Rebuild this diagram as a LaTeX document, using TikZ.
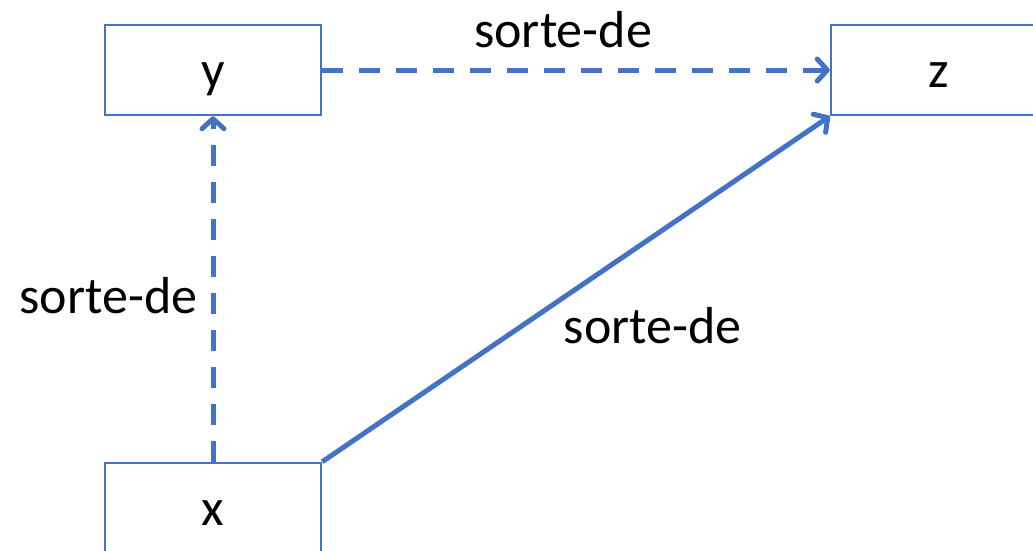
\documentclass[tikz,border=0pt]{standalone}
\usepackage{fontspec}
\setmainfont{Carlito}
\usetikzlibrary{arrows.meta,positioning}
\definecolor{linkblue}{HTML}{4472C4}

\tikzset{
  lbl/.style={text=black,font=\fontsize{52}{60}\selectfont},
  concept/.style={draw=linkblue,line width=2.5pt,minimum width=216pt,minimum height=90pt,
    inner sep=0pt,text height=34pt,text depth=0pt},
  isa/.style={linkblue,line width=5pt,-{Straight Barb[length=10pt,width=22pt,round]}},
  isadash/.style={isa,dash pattern=on 21pt off 16pt}
}

\begin{document}
\begin{tikzpicture}[x=1pt,y=-1pt]
\useasboundingbox (0,0) rectangle (1033,550);
% the three concepts
\node[concept,lbl] (y) at (213,70) {y};
\node[concept,lbl] (z) at (939,70) {z};
\node[concept,lbl] (x) at (213,508) {x};

% kind-of links
\draw[isadash] (x.north) -- (y.south)
  node[lbl,midway,left,xshift=-10pt,yshift=-7pt] {sorte-de};
\draw[isadash] (y.east) -- (z.west)
  node[lbl,midway,above,xshift=-13pt,yshift=16pt] {sorte-de};
\draw[isa] (x.north east) -- (z.south west)
  node[lbl,midway,below right,xshift=-18pt,yshift=-13pt] {sorte-de};
\end{tikzpicture}
\end{document}
